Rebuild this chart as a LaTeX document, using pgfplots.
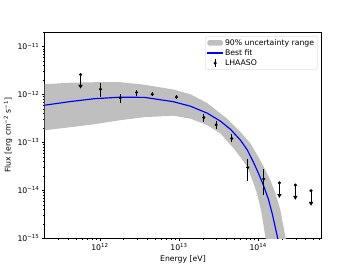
\documentclass[border=0pt]{standalone}
\usepackage{pgfplots}
\pgfplotsset{compat=1.18}
\usepackage{pgfplotstable}
\usepackage{fontspec}
\setmainfont{DejaVu Sans}

\pgfplotstableread{
E F
2.005e11 5.98e-13
4.266e11 7.14e-13
8.57e11 8.18e-13
1.824e12 8.79e-13
3.664e12 8.71e-13
8.51e12 7.08e-13
1.396e13 5.70e-13
2.286e13 4.07e-13
3.342e13 2.78e-13
4.467e13 1.89e-13
5.984e13 1.117e-13
7.328e13 6.92e-14
8.730e13 3.89e-14
1.009e14 2.29e-14
1.167e14 1.288e-14
1.349e14 6.59e-15
1.514e14 3.21e-15
1.702e14 1.35e-15
1.803e14 8.79e-16
}\bestfit

\pgfplotstableread{
E F
2.005e11 1.64e-12
4.266e11 1.762e-12
8.57e11 1.803e-12
1.824e12 1.803e-12
3.664e12 1.60e-12
8.51e12 1.27e-12
1.396e13 1.014e-12
2.286e13 6.59e-13
3.98e13 3.21e-13
5.984e13 1.66e-13
8.0e13 9.53e-14
9.79e13 5.43e-14
1.178e14 3.11e-14
1.429e14 1.64e-14
1.652e14 8.79e-15
1.914e14 3.89e-15
2.213e14 1.08e-15
2.415e14 5.70e-16
1.309e14 6.28e-16
1.236e14 1.08e-15
1.101e14 3.53e-15
9.70e13 8.66e-15
8.47e13 1.64e-14
7.26e13 3.11e-14
5.984e13 4.94e-14
4.92e13 7.50e-14
3.342e13 1.54e-13
2.286e13 2.29e-13
1.396e13 3.13e-13
8.51e12 3.62e-13
3.664e12 3.37e-13
1.824e12 2.92e-13
8.57e11 2.40e-13
4.266e11 2.08e-13
2.005e11 1.80e-13
}\band

\pgfplotstableread{
E F ep em
1.02e12 1.29e-12 4.1e-13 4.2e-13
1.82e12 8.5e-13 1.6e-13 1.7e-13
2.9e12 1.1e-12 1.7e-13 1.5e-13
4.6e12 1.01e-12 1.0e-13 0.9e-13
9.3e12 8.8e-13 0.9e-13 0.8e-13
2.06e13 3.3e-13 0.7e-13 0.57e-13
2.95e13 2.33e-13 0.49e-13 0.40e-13
4.65e13 1.21e-13 0.26e-13 0.21e-13
7.4e13 3.0e-14 1.5e-14 1.42e-14
1.18e14 1.72e-14 1.03e-14 0.93e-14
}\lhaaso

\pgfplotstableread{
E F em T
5.7e11 2.6e-12 1.1e-12 1.5e-12
1.86e14 1.44e-14 0.65e-14 0.79e-14
2.96e14 1.29e-14 0.57e-14 0.72e-14
4.67e14 9.8e-15 0.44e-14 0.54e-14
}\ulims

\begin{document}
\begin{tikzpicture}
\useasboundingbox (-57.6pt,-38.02pt) rectangle (403.2pt,307.58pt);
\begin{axis}[
  at={(0,0)}, anchor=south west,
  scale only axis, width=357.12pt, height=266.11pt,
  xmode=log, ymode=log,
  xmin=2.005e11, xmax=6.3e14, ymin=1e-15, ymax=2.0e-11,
  xtick={1e12,1e13,1e14},
  xticklabels={10\textsuperscript{12},10\textsuperscript{13},10\textsuperscript{14}},
  ytick={1e-15,1e-14,1e-13,1e-12,1e-11},
  yticklabels={10\textsuperscript{−15},10\textsuperscript{−14},10\textsuperscript{−13},10\textsuperscript{−12},10\textsuperscript{−11}},
  minor xtick={3e11,4e11,5e11,6e11,7e11,8e11,9e11,2e12,3e12,4e12,5e12,6e12,7e12,8e12,9e12,2e13,3e13,4e13,5e13,6e13,7e13,8e13,9e13,2e14,3e14,4e14,5e14,6e14},
  minor ytick={2e-15,3e-15,4e-15,5e-15,6e-15,7e-15,8e-15,9e-15,2e-14,3e-14,4e-14,5e-14,6e-14,7e-14,8e-14,9e-14,2e-13,3e-13,4e-13,5e-13,6e-13,7e-13,8e-13,9e-13,2e-12,3e-12,4e-12,5e-12,6e-12,7e-12,8e-12,9e-12,2e-11},
  tick align=outside, tick pos=left,
  major tick length=3.5pt, minor tick length=2pt,
  tick style={black, line width=0.8pt},
  minor tick style={black, line width=0.6pt},
  axis line style={line width=0.8pt},
  tick label style={font=\fontsize{10}{12}\selectfont},
  label style={font=\fontsize{10}{12}\selectfont},
  xlabel={Energy [eV]},
  ylabel={Flux [erg cm\textsuperscript{−2} s\textsuperscript{−1}]},
  legend cell align=left,
  legend style={at={(1,1)}, anchor=north east, xshift=-5pt, yshift=-5pt,
    draw=black!20, fill=white, rounded corners=2pt,
    font=\fontsize{10}{12}\selectfont, row sep=0pt, inner sep=2pt},
]
\addplot[fill=gray!50, draw=none,
  legend image code/.code={\fill[gray!50] (0pt,-3.5pt) rectangle (20pt,3.5pt);}]
  table[x=E, y=F] {\band};
\addlegendentry{90\% uncertainty range}
\addplot[blue, line width=1.5pt,
  legend image code/.code={\draw[blue, line width=1.5pt] (0pt,0pt) -- (20pt,0pt);}]
  table[x=E, y=F] {\bestfit};
\addlegendentry{Best fit}
\addplot[black, only marks, mark=*, mark size=1.8pt,
  error bars/.cd, y dir=both, y explicit, error mark=none,
  error bar style={line width=1pt},
  /pgfplots/legend image code/.code={\draw[black, line width=1pt] (10pt,-5pt) -- (10pt,5pt); \fill[black] (10pt,0pt) circle (1.8pt);}]
  table[x=E, y=F, y error plus=ep, y error minus=em] {\lhaaso};
\addlegendentry{LHAASO}
\addplot[black, only marks, mark=*, mark size=1.8pt, forget plot,
  error bars/.cd, y dir=minus, y explicit, error mark=none,
  error bar style={line width=1pt}]
  table[x=E, y=F, y error minus=em] {\ulims};
\addplot[black, only marks, mark=triangle*, mark size=2.8pt, forget plot,
  mark options={rotate=180}]
  table[x=E, y=T] {\ulims};
\end{axis}
\end{tikzpicture}
\end{document}
